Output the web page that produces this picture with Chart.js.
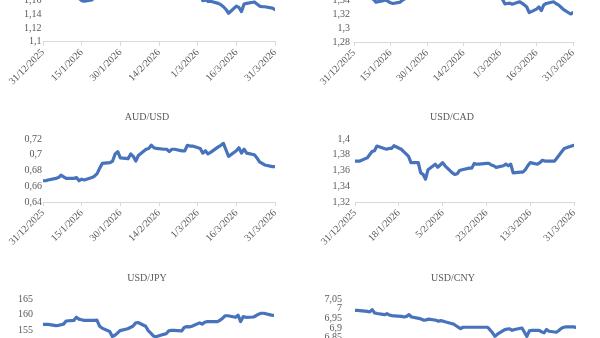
<!DOCTYPE html>
<html lang="es">
<head>
<meta charset="utf-8">
<title>Tipos de cambio 1T 2026</title>
<script src="https://cdn.jsdelivr.net/npm/chart.js@4.4.1/dist/chart.umd.min.js"></script>
<style>
  html, body { margin: 0; padding: 0; background: #fff; }
  #panel { position: relative; width: 600px; height: 338px; overflow: hidden; }
  #panel canvas { position: absolute; }
</style>
</head>
<body>
<div id="panel">
  <canvas id="g-eur" width="300" height="160"></canvas>
  <canvas id="g-gbp" width="300" height="160"></canvas>
  <canvas id="g-aud" width="300" height="160"></canvas>
  <canvas id="g-cad" width="300" height="160"></canvas>
  <canvas id="g-jpy" width="300" height="160"></canvas>
  <canvas id="g-cny" width="300" height="160"></canvas>
</div>
<script>
// Días hábiles, contados desde el 31/12/2025
const dias = [0, 1, 2, 5, 6, 7, 8, 9, 12, 13, 14, 15, 16, 19, 20, 21, 22, 23, 26, 27, 28, 29, 30,
  33, 34, 35, 36, 37, 40, 41, 42, 43, 44, 47, 48, 49, 50, 51, 54, 55, 56, 57, 58,
  61, 62, 63, 64, 65, 68, 69, 70, 71, 72, 75, 76, 77, 78, 79, 82, 83, 84, 85, 86, 89, 90];

// Cotizaciones diarias
const eurUsd = [1.172, 1.172, 1.171, 1.170, 1.169, 1.168, 1.166, 1.165, 1.166, 1.165, 1.163, 1.160, 1.159,
  1.161, 1.165, 1.172, 1.176, 1.183, 1.187, 1.195, 1.192, 1.189, 1.185, 1.183, 1.181, 1.180, 1.178, 1.184,
  1.187, 1.188, 1.187, 1.186, 1.185, 1.183, 1.180, 1.179, 1.177, 1.178, 1.180, 1.178, 1.181, 1.181, 1.179,
  1.170, 1.160, 1.161, 1.159, 1.159, 1.156, 1.154, 1.151, 1.147, 1.1415, 1.152, 1.150, 1.144, 1.155, 1.156,
  1.158, 1.155, 1.152, 1.151, 1.151, 1.149, 1.147];
const gbpUsd = [1.347, 1.346, 1.345, 1.344, 1.345, 1.343, 1.341, 1.337, 1.339, 1.340, 1.338, 1.336, 1.335,
  1.337, 1.340, 1.342, 1.347, 1.355, 1.362, 1.370, 1.372, 1.368, 1.366, 1.364, 1.367, 1.365, 1.360, 1.362,
  1.366, 1.368, 1.365, 1.364, 1.365, 1.362, 1.358, 1.356, 1.354, 1.353, 1.352, 1.350, 1.353, 1.350, 1.349,
  1.341, 1.3345, 1.335, 1.3355, 1.334, 1.3375, 1.3355, 1.333, 1.330, 1.322, 1.327, 1.330, 1.325, 1.333, 1.335,
  1.3375, 1.335, 1.333, 1.330, 1.3265, 1.320, 1.322];
const audUsd = [0.667, 0.667, 0.668, 0.670, 0.671, 0.674, 0.672, 0.670, 0.670, 0.671, 0.667, 0.669, 0.668,
  0.671, 0.673, 0.676, 0.683, 0.689, 0.690, 0.692, 0.701, 0.704, 0.696, 0.695, 0.701, 0.698, 0.692, 0.699,
  0.707, 0.708, 0.712, 0.709, 0.708, 0.707, 0.707, 0.704, 0.707, 0.707, 0.705, 0.705, 0.712, 0.711, 0.711,
  0.708, 0.702, 0.705, 0.701, 0.703, 0.710, 0.712, 0.7145, 0.706, 0.698, 0.705, 0.709, 0.702, 0.707, 0.702,
  0.700, 0.696, 0.691, 0.689, 0.687, 0.685, 0.685];
const usdCad = [1.372, 1.372, 1.372, 1.376, 1.380, 1.384, 1.385, 1.391, 1.388, 1.387, 1.388, 1.388, 1.3915,
  1.387, 1.384, 1.381, 1.378, 1.370, 1.370, 1.357, 1.355, 1.349, 1.361, 1.368, 1.364, 1.367, 1.370, 1.366,
  1.357, 1.355, 1.356, 1.360, 1.361, 1.363, 1.363, 1.369, 1.368, 1.368, 1.369, 1.369, 1.367, 1.366, 1.364,
  1.366, 1.368, 1.366, 1.368, 1.357, 1.358, 1.358, 1.361, 1.366, 1.370, 1.368, 1.370, 1.373, 1.372, 1.372,
  1.372, 1.376, 1.380, 1.384, 1.388, 1.391, 1.392];
const usdJpy = [156.8, 156.8, 156.8, 156.4, 156.5, 156.7, 156.9, 157.9, 158.1, 159.1, 158.5, 158.3, 158.1,
  158.1, 158.1, 158.2, 156.3, 155.6, 154.5, 152.9, 153.3, 154.0, 154.8, 155.4, 155.8, 156.2, 157.2, 157.4,
  156.2, 154.8, 154.0, 153.1, 152.8, 153.6, 153.8, 154.7, 154.9, 154.9, 154.7, 155.8, 156.1, 156.0, 156.2,
  157.3, 156.9, 157.5, 157.7, 157.7, 157.7, 158.2, 158.8, 159.6, 159.6, 159.1, 159.8, 157.7, 159.3, 159.1,
  159.2, 159.6, 160.1, 160.4, 160.4, 159.8, 159.7];
const usdCny = [6.991, 6.991, 6.990, 6.986, 6.983, 6.995, 6.978, 6.975, 6.969, 6.974, 6.967, 6.964, 6.963,
  6.960, 6.957, 6.960, 6.969, 6.957, 6.950, 6.946, 6.940, 6.942, 6.946, 6.940, 6.935, 6.938, 6.935, 6.931,
  6.921, 6.913, 6.905, 6.897, 6.904, 6.904, 6.904, 6.904, 6.904, 6.904, 6.904, 6.890, 6.875, 6.857, 6.868,
  6.892, 6.894, 6.896, 6.888, 6.892, 6.900, 6.878, 6.857, 6.885, 6.888, 6.888, 6.880, 6.875, 6.892, 6.883,
  6.878, 6.887, 6.898, 6.904, 6.906, 6.906, 6.903];

// Marcas del eje X (día y etiqueta)
const marcasX = [0, 15, 30, 45, 60, 75, 90];
const etiquetasX = ['31/12/2025', '15/1/2026', '30/1/2026', '14/2/2026', '1/3/2026', '16/3/2026', '31/3/2026'];
const marcasXCad = [0, 18, 36, 54, 72, 90];
const etiquetasXCad = ['31/12/2025', '18/1/2026', '5/2/2026', '23/2/2026', '13/3/2026', '31/3/2026'];

// Marcas del eje Y
const ticksEur = [1.1, 1.12, 1.14, 1.16, 1.18, 1.2];
const ticksGbp = [1.28, 1.3, 1.32, 1.34, 1.36, 1.38];
const ticksAud = [0.64, 0.66, 0.68, 0.7, 0.72];
const ticksCad = [1.32, 1.34, 1.36, 1.38, 1.4];
const ticksJpy = [145, 150, 155, 160, 165];
const ticksCny = [6.75, 6.8, 6.85, 6.9, 6.95, 7, 7.05];

(function() {
    const GRIS = '#595959';
    const AZUL = '#4673BC';
    const EJE = '#d9d9d9';
    const ANCHO = 300, ALTO = 160;

    Chart.defaults.font.family = '"Liberation Serif", "Times New Roman", serif';
    Chart.defaults.font.size = 10;
    Chart.defaults.color = GRIS;

    // Número con coma decimal, como en la hoja original
    const formato = v => String(parseFloat(Number(v).toFixed(3))).replace('.', ',');

    // caja: lienzo (cx, cy), área de trazado (l, t, r, b), centro del título (tc),
    // margen del título (pt) y separación de las etiquetas Y (py), en px de página
    function grafico(id, titulo, valores, ticksY, marcas, etiquetas, caja) {
        const canvas = document.getElementById(id);
        canvas.style.left = caja.cx + 'px';
        canvas.style.top = caja.cy + 'px';

        // El título se centra en el ancho libre entre los márgenes del layout
        const medio = caja.tc - caja.cx;
        const padIzq = medio > ANCHO / 2 ? 2 * medio - ANCHO : 0;
        const padDer = medio < ANCHO / 2 ? ANCHO - 2 * medio : 0;

        const anchoY = caja.l - caja.cx - padIzq;
        const anchoDer = caja.cx + ANCHO - caja.r - padDer;
        const altoX = caja.cy + ALTO - caja.b;
        const padBajoTitulo = caja.t - caja.cy - caja.pt - 12;

        new Chart(canvas, {
            type: 'line',
            data: {
                datasets: [{
                    data: dias.map((d, i) => ({ x: d, y: valores[i] })),
                    borderColor: AZUL,
                    borderWidth: 3.2,
                    pointRadius: 0,
                    tension: 0,
                    borderJoinStyle: 'round',
                    borderCapStyle: 'round'
                }]
            },
            options: {
                responsive: false,
                animation: false,
                devicePixelRatio: 1,
                layout: {
                    autoPadding: false,
                    padding: { left: padIzq, top: 0, bottom: 0, right: padDer }
                },
                plugins: {
                    legend: { display: false },
                    tooltip: { enabled: false },
                    title: {
                        display: true,
                        text: titulo,
                        color: GRIS,
                        font: { size: 10, weight: 'normal', lineHeight: 1.2 },
                        padding: { top: caja.pt, bottom: padBajoTitulo }
                    }
                },
                scales: {
                    x: {
                        type: 'linear',
                        min: marcas[0],
                        max: marcas[marcas.length - 1],
                        afterBuildTicks: s => { s.ticks = marcas.map(v => ({ value: v })); },
                        afterFit: s => { s.height = altoX; },
                        grid: { display: true, drawOnChartArea: false, drawTicks: true, tickLength: 4, color: EJE },
                        border: { display: true, color: EJE, width: 1 },
                        ticks: {
                            autoSkip: false,
                            minRotation: 45,
                            maxRotation: 45,
                            padding: 1,
                            color: GRIS,
                            callback: (v, i) => etiquetas[i]
                        }
                    },
                    y: {
                        min: ticksY[0],
                        max: ticksY[ticksY.length - 1],
                        afterBuildTicks: s => { s.ticks = ticksY.map(v => ({ value: v })); },
                        afterFit: s => { s.width = anchoY; },
                        grid: { display: false, drawTicks: false },
                        border: { display: false },
                        ticks: { autoSkip: false, padding: caja.py, color: GRIS, callback: v => formato(v) }
                    },
                    // Eje vacío a la derecha: sólo reserva el hueco hasta el borde del gráfico
                    margen: {
                        type: 'linear',
                        position: 'right',
                        afterFit: s => { s.width = anchoDer; },
                        grid: { display: false, drawTicks: false },
                        border: { display: false },
                        ticks: { display: false }
                    }
                }
            }
        });
    }

    document.addEventListener('DOMContentLoaded', () => {
        grafico('g-eur', 'EUR/USD', eurUsd, ticksEur, marcasX, etiquetasX,
            { cx: 0, cy: -55, pt: 6, tc: 147, py: 1.5, l: 43, r: 275, t: -26.8, b: 41.7 });
        grafico('g-gbp', 'GBP/USD', gbpUsd, ticksGbp, marcasX, etiquetasX,
            { cx: 300, cy: -55, pt: 6, tc: 452, py: 4, l: 354, r: 573, t: -28, b: 42 });
        grafico('g-aud', 'AUD/USD', audUsd, ticksAud, marcasX, etiquetasX,
            { cx: 0, cy: 105, pt: 6, tc: 147, py: 1, l: 43, r: 275, t: 139, b: 202 });
        grafico('g-cad', 'USD/CAD', usdCad, ticksCad, marcasXCad, etiquetasXCad,
            { cx: 300, cy: 105, pt: 6, tc: 452, py: 5, l: 355, r: 574, t: 139, b: 202 });
        grafico('g-jpy', 'USD/JPY', usdJpy, ticksJpy, marcasX, etiquetasX,
            { cx: 0, cy: 265, pt: 7, tc: 147, py: 10, l: 43, r: 274, t: 299, b: 361 });
        grafico('g-cny', 'USD/CNY', usdCny, ticksCny, marcasX, etiquetasX,
            { cx: 300, cy: 265, pt: 7, tc: 453, py: 13, l: 355, r: 576, t: 299, b: 357 });
    });
})();
</script>
</body>
</html>
